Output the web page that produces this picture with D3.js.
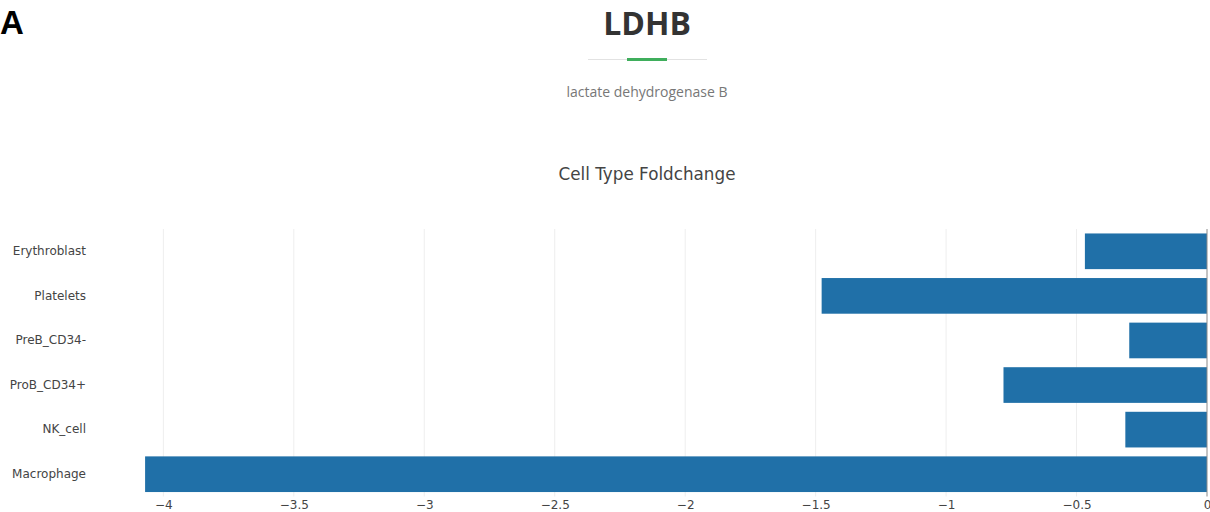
<!DOCTYPE html>
<html>
<head>
<meta charset="utf-8">
<script src="https://cdn.jsdelivr.net/npm/d3@7"></script>
<style>
  html, body { margin: 0; padding: 0; background: #fff; overflow: hidden; }
  svg { display: block; }
</style>
</head>
<body>
<svg id="chart" width="1210" height="512"></svg>
<script>
// Fold change of LDHB per cell type
const cellTypes = ["Erythroblast", "Platelets", "PreB_CD34-", "ProB_CD34+", "NK_cell", "Macrophage"];
const foldChange = [-0.468, -1.477, -0.298, -0.78, -0.313, -4.07];
const xTicks = [-4, -3.5, -3, -2.5, -2, -1.5, -1, -0.5, 0];

const svg = d3.select("#chart");
const font = "'Open Sans', 'DejaVu Sans', sans-serif";
const tickFont = "Verdana, 'DejaVu Sans', sans-serif";

// Panel letter
svg.append("text")
  .attr("x", 0).attr("y", 34)
  .attr("font-family", "'Liberation Sans', Arial, sans-serif")
  .attr("font-weight", "bold").attr("font-size", 33)
  .attr("fill", "#000").text("A");

// Gene header
const cx = 647;
svg.append("text")
  .attr("x", cx).attr("y", 35)
  .attr("text-anchor", "middle")
  .attr("font-family", font).attr("font-weight", "bold").attr("font-size", 32)
  .attr("fill", "#333").text("LDHB");
svg.append("line")
  .attr("x1", 588).attr("x2", 707).attr("y1", 59.5).attr("y2", 59.5)
  .attr("stroke", "#e2e2e2").attr("stroke-width", 1);
svg.append("line")
  .attr("x1", 627).attr("x2", 667).attr("y1", 59.5).attr("y2", 59.5)
  .attr("stroke", "#3fae5c").attr("stroke-width", 3);
svg.append("text")
  .attr("x", cx).attr("y", 97)
  .attr("text-anchor", "middle")
  .attr("font-family", font).attr("font-size", 14)
  .attr("fill", "#777").text("lactate dehydrogenase B");

// Chart title
svg.append("text")
  .attr("x", cx).attr("y", 180)
  .attr("text-anchor", "middle")
  .attr("font-family", tickFont).attr("font-size", 16.8)
  .attr("fill", "#444").text("Cell Type Foldchange");

// Plot area
const plot = { left: 92, right: 1207, top: 229, bottom: 496.5 };
const xMin = d3.min(foldChange) * 1.05;

const x = d3.scaleLinear().domain([xMin, 0]).range([plot.left, plot.right]);
const y = d3.scaleBand().domain(cellTypes).range([plot.top, plot.bottom])
  .paddingInner(0.2).paddingOuter(0.1);

// Gridlines
svg.append("g")
  .selectAll("line")
  .data(xTicks.filter(t => t !== 0))
  .join("line")
  .attr("x1", d => x(d)).attr("x2", d => x(d))
  .attr("y1", plot.top).attr("y2", plot.bottom)
  .attr("stroke", "#eeeeee").attr("stroke-width", 1);

// Bars
svg.append("g")
  .selectAll("rect")
  .data(cellTypes.map((c, i) => ({ c, v: foldChange[i] })))
  .join("rect")
  .attr("x", d => x(d.v))
  .attr("width", d => x(0) - x(d.v))
  .attr("y", d => y(d.c))
  .attr("height", y.bandwidth())
  .attr("fill", "#2070a8");

// Zero line
svg.append("line")
  .attr("x1", x(0)).attr("x2", x(0))
  .attr("y1", plot.top).attr("y2", plot.bottom)
  .attr("stroke", "#8a8a8a").attr("stroke-width", 1);

// X axis
const xAxis = d3.axisBottom(x)
  .tickValues(xTicks)
  .tickSize(0)
  .tickPadding(0)
  .tickFormat(d => d === 0 ? "0" : String(d).replace("-", "\u2212"));
const gx = svg.append("g")
  .attr("transform", `translate(0,${plot.bottom})`)
  .call(xAxis);
gx.select(".domain").remove();
gx.selectAll("text")
  .attr("dy", "1.0em")
  .attr("font-family", tickFont)
  .attr("font-size", 12)
  .attr("fill", "#444");

// Y axis
const yAxis = d3.axisLeft(y).tickSize(0).tickPadding(6);
const gy = svg.append("g")
  .attr("transform", `translate(${plot.left},0)`)
  .call(yAxis);
gy.select(".domain").remove();
gy.selectAll("text")
  .attr("font-family", tickFont)
  .attr("font-size", 12)
  .attr("fill", "#444");
</script>
</body>
</html>
